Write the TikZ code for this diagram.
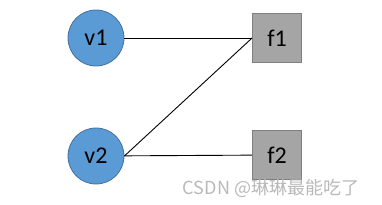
\documentclass[tikz,border=0pt]{standalone}
\usepackage{fontspec}
\setmainfont{Carlito}
\newfontfamily\cjkfont{Noto Sans CJK SC}
\begin{document}
\begin{tikzpicture}[x=1pt,y=-1pt,
    varnode/.style={circle,draw=blue!45!black!70,fill=blue!55!cyan!40!gray!90,line width=0.8pt,minimum size=56pt,inner sep=0pt,font=\fontsize{24}{28}\selectfont},
    facnode/.style={rectangle,draw=gray!90!black,fill=gray!75,line width=0.8pt,minimum size=49pt,inner sep=0pt,font=\fontsize{24}{28}\selectfont},
    edge/.style={line width=0.9pt}]
  \useasboundingbox (0,0) rectangle (382,205);
  \definecolor{vblue}{HTML}{5B9BD5}
  \definecolor{vline}{HTML}{41719C}
  \definecolor{fgray}{HTML}{A5A5A5}
  \definecolor{fline}{HTML}{7F7F7F}
  \node[varnode,fill=vblue,draw=vline] (v1) at (96,38) {v1};
  \node[varnode,fill=vblue,draw=vline] (v2) at (96,156) {v2};
  \node[facnode,fill=fgray,draw=fline] (f1) at (277,38) {f1};
  \node[facnode,fill=fgray,draw=fline] (f2) at (277,155) {f2};
  \draw[edge] (v1) -- (f1);
  \draw[edge] (v2.east) -- (f1.west);
  \draw[edge] (v2) -- (f2);
  \node[text=gray!55,font=\cjkfont\fontsize{18}{20}\selectfont] (mark) at (271,188) {CSDN @琳琳最能吃了};
\end{tikzpicture}
\end{document}
